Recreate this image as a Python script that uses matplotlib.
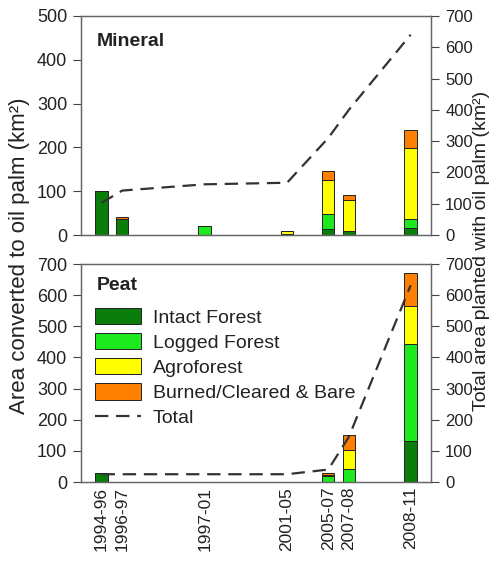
import numpy as np
import matplotlib
matplotlib.use('Agg')
import matplotlib.pyplot as plt
from matplotlib.patches import Patch
from matplotlib.lines import Line2D

plt.rcParams['font.family'] = ['Liberation Sans', 'DejaVu Sans']
plt.rcParams['font.size'] = 13

periods = ['1994-96', '1996-97', '1997-01', '2001-05', '2005-07', '2007-08', '2008-11']
end_year = [1996, 1997, 2001, 2005, 2007, 2008, 2011]

# mineral soils, km2 converted per period
min_intact = [100, 37, 0, 3, 13, 8, 15]
min_logged = [0, 0, 20, 0, 36, 0, 21]
min_agro = [0, 0, 0, 5, 76, 73, 163]
min_burned = [0, 4, 0, 0, 20, 10, 41]
min_total = [103, 142, 162, 167, 310, 400, 640]

# peat soils
peat_intact = [30, 0, 0, 0, 0, 0, 133]
peat_logged = [0, 0, 0, 0, 20, 42, 310]
peat_agro = [0, 0, 0, 0, 2, 62, 123]
peat_burned = [0, 0, 0, 0, 6, 48, 105]
peat_total = [25, 25, 25, 25, 40, 145, 632]

names = ['Intact Forest', 'Logged Forest', 'Agroforest', 'Burned/Cleared & Bare']
colors = ['#0a7d0a', '#1ee81e', '#ffff00', '#ff7f00']

fig = plt.figure(figsize=(4.94, 5.66), dpi=100)
ax1 = fig.add_axes([0.164, 0.5848, 0.709, 0.387])
ax2 = fig.add_axes([0.164, 0.1484, 0.709, 0.385])


def draw(ax, stacks, total, ymax_left):
    x = np.array(end_year, dtype=float)
    bottom = np.zeros(len(x))
    for vals, c in zip(stacks, colors):
        v = np.array(vals, dtype=float)
        ax.bar(x, v, 0.6, bottom=bottom, color=c, edgecolor='#222222', linewidth=0.7)
        bottom += v
    ax.set_xlim(1995, 2012)
    ax.set_ylim(0, ymax_left)
    ax.set_yticks(np.arange(0, ymax_left + 1, 100))
    ax.tick_params(axis='y', direction='out', length=6, color='#444444', pad=4,
                   labelcolor='#222222')
    ax.set_xticks(end_year)
    ax.tick_params(axis='x', length=0, labelsize=12.5, labelcolor='#222222')
    for s in ax.spines.values():
        s.set_color('#666666')
        s.set_linewidth(1)
    rax = ax.twinx()
    rax.plot(x, total, color='#333333', lw=1.6, dashes=(6, 3.5))
    rax.set_ylim(0, 700)
    rax.set_yticks(np.arange(0, 701, 100))
    rax.tick_params(axis='y', direction='out', length=6, color='#444444', pad=4,
                    labelcolor='#222222', labelsize=12)
    for s in rax.spines.values():
        s.set_color('#666666')
    return rax


draw(ax1, [min_intact, min_logged, min_agro, min_burned], min_total, 500)
ax1.set_xticklabels([])
ax1.text(0.045, 0.885, 'Mineral', transform=ax1.transAxes, fontweight='bold',
         ha='left', va='center', fontsize=14, color='#222222')

r2 = draw(ax2, [peat_intact, peat_logged, peat_agro, peat_burned], peat_total, 700)
ax2.set_xticklabels(periods, rotation=90)
ax2.text(0.045, 0.904, 'Peat', transform=ax2.transAxes, fontweight='bold',
         ha='left', va='center', fontsize=14, color='#222222')

handles = [Patch(facecolor=c, edgecolor='#222222', linewidth=0.7) for c in colors]
handles.append(Line2D([0], [0], color='#333333', lw=1.6, dashes=(6, 3.5)))
leg = r2.legend(handles, names + ['Total'], loc='upper left', frameon=False,
                bbox_to_anchor=(0.0, 0.862), handlelength=2.4, handleheight=0.9,
                labelspacing=0.33, borderaxespad=0.3, borderpad=0.4,
                handletextpad=0.6, fontsize=14)
for t in leg.get_texts():
    t.set_color('#222222')

fig.text(0.04, 0.549, 'Area converted to oil palm (km²)', rotation=90,
         ha='center', va='center', fontsize=16, color='#222222')
fig.text(0.975, 0.556, 'Total area planted with oil palm (km²)', rotation=90,
         ha='center', va='center', fontsize=14, color='#222222')

fig.savefig('out.png', dpi=100)
